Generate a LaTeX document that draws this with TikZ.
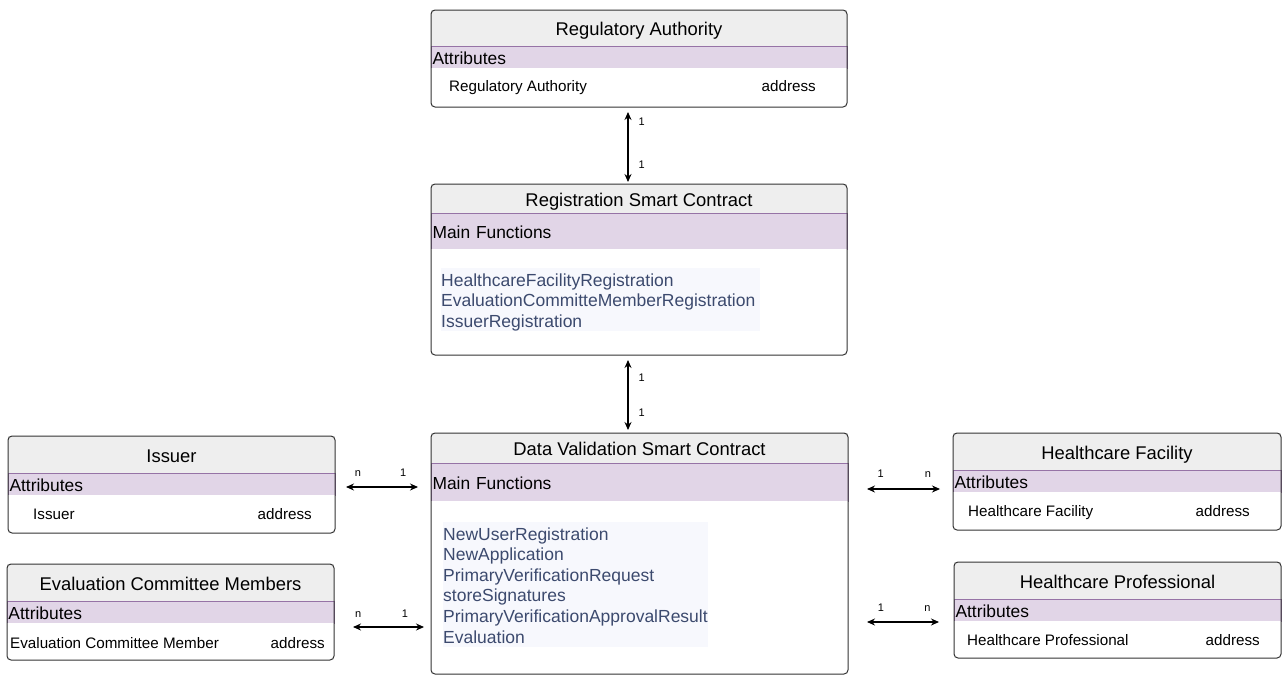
\documentclass[tikz,border=0pt]{standalone}
\usepackage{fontspec}
\setmainfont{Liberation Sans}
\usetikzlibrary{positioning,arrows.meta}

\definecolor{titlegray}{HTML}{EEEEEE}
\definecolor{bandfill}{HTML}{E1D5E7}
\definecolor{banddraw}{HTML}{9673A6}
\definecolor{funcbg}{HTML}{F7F8FD}
\definecolor{functext}{HTML}{3C4A6E}

\newcommand{\fntop}{\rule{0pt}{17.8pt}}
\newcommand{\fnbot}{\rule[-4pt]{0pt}{4pt}}

\begin{document}
\begin{tikzpicture}[x=1pt,y=-1pt]
  \tikzstyle{ctitle} = [rectangle, fill=titlegray, inner sep=0pt, outer sep=0pt, text height=15.6pt, text depth=0pt, font=\fontsize{18.4}{22}\selectfont]
  \tikzstyle{cband} = [rectangle, fill=bandfill, draw=banddraw, line width=0.8pt, inner xsep=1.5pt, inner ysep=0pt, outer sep=0pt, text height=14.6pt, text depth=0pt, align=left, font=\fontsize{17.4}{21}\selectfont]
  \tikzstyle{cbody} = [rectangle, fill=white, inner sep=0pt, outer sep=0pt]
  \tikzstyle{cframe} = [draw=black!80, line width=1pt, rounded corners=4pt]
  \tikzstyle{field} = [inner sep=0pt, font=\fontsize{15.2}{18}\selectfont]
  \tikzstyle{funcs} = [fill=funcbg, text=functext, inner xsep=0pt, inner ysep=0pt, align=left, font=\fontsize{17.5}{20.6}\selectfont]
  \tikzstyle{link} = [{Stealth[length=8pt,width=7pt]}-{Stealth[length=8pt,width=7pt]}, line width=1.1pt]
  \tikzstyle{mult} = [inner sep=0pt, font=\fontsize{11}{13}\selectfont]

  \useasboundingbox (0,0) rectangle (1284,675);

  % Regulatory Authority
  \node[ctitle, minimum width=416pt, minimum height=36pt, anchor=north west] (ra-t) at (431,10) {Regulatory Authority};
  \node[cband, text width=413pt, minimum height=22pt, below=0pt of ra-t] (ra-a) {Attributes};
  \node[cbody, minimum width=416pt, minimum height=39pt, below=0pt of ra-a] (ra-b) {};
  \node[field, anchor=base west] (ra-n) at ([xshift=18pt, yshift=-3.5pt]ra-b.west) {Regulatory Authority};
  \node[field, anchor=base east] (ra-v) at ([xshift=-31pt, yshift=-3.5pt]ra-b.east) {address};
  \draw[cframe] (ra-t.north west) rectangle (ra-b.south east);

  % Registration Smart Contract
  \node[ctitle, minimum width=416pt, minimum height=29pt, anchor=north west] (rsc-t) at (431,184) {Registration Smart Contract};
  \node[cband, text width=413pt, minimum height=36pt, below=0pt of rsc-t] (rsc-a) {Main Functions};
  \node[cbody, minimum width=416pt, minimum height=106pt, below=0pt of rsc-a] (rsc-b) {};
  \node[funcs, text width=319pt, below right=19pt and 10pt of rsc-a.south west] (rsc-f)
    {\fntop HealthcareFacilityRegistration\\EvaluationCommitteMemberRegistration\\IssuerRegistration\fnbot};
  \draw[cframe] (rsc-t.north west) rectangle (rsc-b.south east);

  % Data Validation Smart Contract
  \node[ctitle, minimum width=417pt, minimum height=30pt, anchor=north west] (dv-t) at (431,433) {Data Validation Smart Contract};
  \node[cband, text width=414pt, minimum height=38pt, below=0pt of dv-t] (dv-a) {Main Functions};
  \node[cbody, minimum width=417pt, minimum height=173pt, below=0pt of dv-a] (dv-b) {};
  \node[funcs, text width=265pt, below right=21pt and 12pt of dv-a.south west] (dv-f)
    {\fntop NewUserRegistration\\NewApplication\\PrimaryVerificationRequest\\storeSignatures\\PrimaryVerificationApprovalResult\\Evaluation\fnbot};
  \draw[cframe] (dv-t.north west) rectangle (dv-b.south east);

  % Issuer
  \node[ctitle, minimum width=327pt, minimum height=37pt, anchor=north west] (is-t) at (8,436) {Issuer};
  \node[cband, text width=324pt, minimum height=22pt, below=0pt of is-t] (is-a) {Attributes};
  \node[cbody, minimum width=327pt, minimum height=38pt, below=0pt of is-a] (is-b) {};
  \node[field, anchor=base west] (is-n) at ([xshift=25pt, yshift=-5.3pt]is-b.west) {Issuer};
  \node[field, anchor=base east] (is-v) at ([xshift=-23pt, yshift=-5.3pt]is-b.east) {address};
  \draw[cframe] (is-t.north west) rectangle (is-b.south east);

  % Evaluation Committee Members
  \node[ctitle, minimum width=327pt, minimum height=37pt, anchor=north west] (ec-t) at (7,564) {Evaluation Committee Members};
  \node[cband, text width=324pt, minimum height=22pt, below=0pt of ec-t] (ec-a) {Attributes};
  \node[cbody, minimum width=327pt, minimum height=37pt, below=0pt of ec-a] (ec-b) {};
  \node[field, anchor=base west] (ec-n) at ([xshift=3pt, yshift=-6.5pt]ec-b.west) {Evaluation Committee Member};
  \node[field, anchor=base east] (ec-v) at ([xshift=-9pt, yshift=-6.5pt]ec-b.east) {address};
  \draw[cframe] (ec-t.north west) rectangle (ec-b.south east);

  % Healthcare Facility
  \node[ctitle, minimum width=328pt, minimum height=37pt, anchor=north west] (hf-t) at (953,433) {Healthcare Facility};
  \node[cband, text width=325pt, minimum height=22pt, below=0pt of hf-t] (hf-a) {Attributes};
  \node[cbody, minimum width=328pt, minimum height=38pt, below=0pt of hf-a] (hf-b) {};
  \node[field, anchor=base west] (hf-n) at ([xshift=15pt, yshift=-5pt]hf-b.west) {Healthcare Facility};
  \node[field, anchor=base east] (hf-v) at ([xshift=-31pt, yshift=-5pt]hf-b.east) {address};
  \draw[cframe] (hf-t.north west) rectangle (hf-b.south east);

  % Healthcare Professional
  \node[ctitle, minimum width=327pt, minimum height=37pt, anchor=north west] (hp-t) at (954,562) {Healthcare Professional};
  \node[cband, text width=324pt, minimum height=22pt, below=0pt of hp-t] (hp-a) {Attributes};
  \node[cbody, minimum width=327pt, minimum height=37pt, below=0pt of hp-a] (hp-b) {};
  \node[field, anchor=base west] (hp-n) at ([xshift=13pt, yshift=-5.5pt]hp-b.west) {Healthcare Professional};
  \node[field, anchor=base east] (hp-v) at ([xshift=-21pt, yshift=-5.5pt]hp-b.east) {address};
  \draw[cframe] (hp-t.north west) rectangle (hp-b.south east);

  % Links
  \draw[link, shorten <=5pt, shorten >=2pt] ([xshift=-11pt]ra-b.south) -- ([xshift=-11pt]rsc-t.north)
    node[mult, pos=0.19, anchor=west, xshift=10pt] {1}
    node[mult, pos=0.75, anchor=west, xshift=10pt] {1};
  \draw[link, shorten <=5pt, shorten >=3pt] ([xshift=-11pt]rsc-b.south) -- ([xshift=-11.5pt]dv-t.north)
    node[mult, pos=0.29, anchor=west, xshift=10pt] {1}
    node[mult, pos=0.74, anchor=west, xshift=10pt] {1};
  \draw[link, shorten <=11pt, shorten >=13pt] ([yshift=-3pt]is-a.east) -- ([yshift=-5pt]dv-a.west)
    node[mult, pos=0.24, anchor=base, yshift=11pt] {n}
    node[mult, pos=0.71, anchor=base, yshift=11pt] {1};
  \draw[link, shorten <=19pt, shorten >=7pt] ([yshift=-15pt]ec-a.east) -- ([yshift=-39.5pt]dv-b.west)
    node[mult, pos=0.25, anchor=base, yshift=10pt] {n}
    node[mult, pos=0.73, anchor=base, yshift=10pt] {1};
  \draw[link, shorten <=19pt, shorten >=13pt] ([yshift=-7pt]dv-a.east) -- ([yshift=-8pt]hf-a.west)
    node[mult, pos=0.31, anchor=base, yshift=12pt] {1}
    node[mult, pos=0.76, anchor=base, yshift=12pt] {n};
  \draw[link, shorten <=19pt, shorten >=15pt] ([yshift=-34.5pt]dv-b.east) -- ([yshift=-12pt]hp-a.west)
    node[mult, pos=0.31, anchor=base, yshift=11pt] {1}
    node[mult, pos=0.75, anchor=base, yshift=11pt] {n};
\end{tikzpicture}
\end{document}
